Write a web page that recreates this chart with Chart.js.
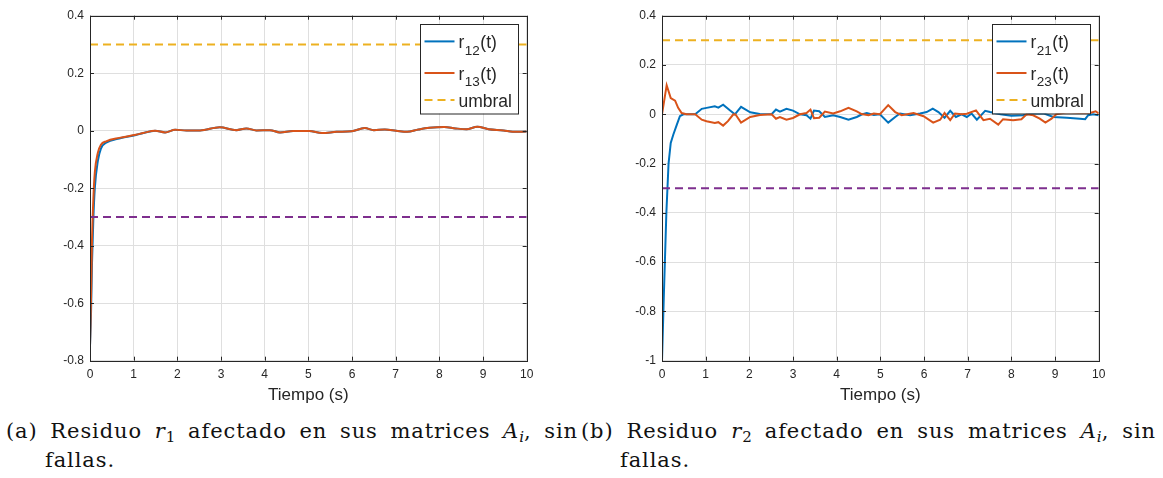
<!DOCTYPE html>
<html>
<head>
<meta charset="utf-8">
<script src="https://cdn.jsdelivr.net/npm/chart.js@4.4.1/dist/chart.umd.min.js"></script>
<style>
  body { margin: 0; background: #fff; width: 1163px; height: 478px; position: relative; overflow: hidden; }
  canvas { position: absolute; top: 0; }
  #left { left: 0; }
  #right { left: 580px; }
  .cap { position: absolute; top: 417px; font-family: "DejaVu Serif", serif; font-size: 21px; letter-spacing: 0.9px; line-height: 29px; color: #111; }
  .cap .l1 { text-align: justify; text-align-last: justify; white-space: nowrap; }
  .cap .l2 { padding-left: 39px; }
  .cap i { font-style: italic; }
  .cap .sb { font-size: 0.72em; vertical-align: -0.28em; line-height: 0; letter-spacing: 0; }
</style>
</head>
<body>
<canvas id="left" width="580" height="410"></canvas>
<canvas id="right" width="583" height="410"></canvas>
<div class="cap" style="left:6px;width:572px">
  <div class="l1">(a) Residuo <i>r</i><span class="sb">1</span> afectado en sus matrices <i>A</i><span class="sb"><i>i</i></span>, sin</div>
  <div class="l2">fallas.</div>
</div>
<div class="cap" style="left:581px;width:575px">
  <div class="l1">(b) Residuo <i>r</i><span class="sb">2</span> afectado en sus matrices <i>A</i><span class="sb"><i>i</i></span>, sin</div>
  <div class="l2">fallas.</div>
</div>
<script>
// ---- data ----
const xTicks = [0, 1, 2, 3, 4, 5, 6, 7, 8, 9, 10];

// (a) residuo r1
const tLeft = [0, 0.023, 0.046, 0.076, 0.11, 0.18, 0.25, 0.37, 0.67, 1.05,
    1.22, 1.49, 1.72, 1.95, 2.21, 2.52, 2.97, 3.35, 3.58, 3.81,
    4.12, 4.35, 4.65, 5.02, 5.31, 5.65, 5.99, 6.29, 6.5, 6.75,
    7.01, 7.26, 7.52, 7.77, 8.11, 8.37, 8.62, 8.87, 9.13, 9.47,
    9.68, 10];
const r12 = [-0.75, -0.64, -0.46, -0.31, -0.2, -0.105, -0.062, -0.042, -0.027, -0.015,
    -0.008, 0, -0.006, 0.003, 0.001, 0.001, 0.012, 0.002, 0.008, 0.001,
    0.002, -0.006, -0.001, -0.001, -0.008, -0.004, -0.002, 0.009, 0.002, 0.004,
    0, -0.004, 0.004, 0.01, 0.013, 0.008, 0.005, 0.014, 0.005, 0.001,
    -0.004, -0.003];
const r13 = [-0.75, -0.59, -0.38, -0.24, -0.146, -0.077, -0.049, -0.037, -0.025, -0.014,
    -0.008, 0, -0.006, 0.003, 0.001, 0.001, 0.012, 0.002, 0.008, 0.001,
    0.002, -0.006, -0.001, -0.001, -0.008, -0.004, -0.002, 0.009, 0.002, 0.004,
    0, -0.004, 0.004, 0.01, 0.013, 0.008, 0.005, 0.014, 0.005, 0.001,
    -0.004, -0.003];

// (b) residuo r2
const tR21 = [0, 0.04, 0.1, 0.15, 0.2, 0.26, 0.34, 0.41, 0.49, 0.76,
    0.91, 1.02, 1.21, 1.29, 1.4, 1.56, 1.67, 1.81, 2.02, 2.24,
    2.51, 2.61, 2.7, 2.85, 3.0, 3.16, 3.31, 3.4, 3.48, 3.6,
    3.73, 3.92, 4.08, 4.27, 4.46, 4.57, 4.69, 4.85, 4.99, 5.18,
    5.34, 5.45, 5.68, 5.91, 6.06, 6.2, 6.33, 6.47, 6.6, 6.73,
    6.86, 6.98, 7.09, 7.21, 7.4, 7.51, 7.75, 8.0, 8.27, 8.5,
    8.75, 8.96, 9.27, 9.57, 9.69, 9.76, 9.87, 10];
const r21 = [-1, -0.75, -0.4, -0.2, -0.116, -0.082, -0.042, -0.008, 0, 0,
    0.022, 0.026, 0.032, 0.027, 0.039, 0.015, 0, 0.03, 0.008, 0.001,
    0, 0.019, 0.011, 0.022, 0.015, 0, -0.004, -0.018, 0.015, 0.012,
    -0.011, -0.004, -0.011, -0.022, -0.011, -0.001, 0.005, -0.003, 0, -0.034,
    -0.011, 0.003, -0.004, 0.003, 0.009, 0.023, 0.009, -0.014, 0.014, -0.011,
    0, -0.011, 0.003, -0.022, 0.014, 0.009, 0, -0.006, -0.004, 0.004,
    0.003, -0.011, -0.014, -0.018, -0.02, -0.004, 0, -0.004];
const tR23 = [0, 0.107, 0.2, 0.3, 0.37, 0.45, 0.56, 0.76, 0.91, 1.02,
    1.21, 1.29, 1.4, 1.51, 1.63, 1.68, 1.81, 2.02, 2.24, 2.51,
    2.61, 2.7, 2.85, 3.0, 3.16, 3.31, 3.4, 3.48, 3.6, 3.73,
    3.92, 4.08, 4.27, 4.46, 4.57, 4.73, 4.85, 4.99, 5.18, 5.34,
    5.49, 5.76, 5.99, 6.21, 6.37, 6.47, 6.6, 6.71, 6.86, 6.98,
    7.19, 7.36, 7.51, 7.7, 7.81, 8.04, 8.23, 8.35, 8.5, 8.65,
    8.78, 8.92, 9.03, 9.28, 9.54, 9.8, 9.93, 10];
const r23 = [0, 0.118, 0.066, 0.055, 0.026, 0.005, 0, 0, -0.022, -0.028,
    -0.035, -0.032, -0.046, -0.028, -0.001, 0, -0.034, -0.011, -0.003, 0,
    -0.018, -0.011, -0.022, -0.015, 0, 0.005, 0.019, -0.016, -0.014, 0.011,
    0.003, 0.012, 0.026, 0.012, 0.001, -0.004, 0.003, 0, 0.037, 0.009,
    -0.004, 0.005, -0.008, -0.034, -0.022, 0.005, -0.024, 0.003, 0, 0.002,
    0.016, -0.024, -0.018, -0.042, -0.02, -0.024, -0.02, 0, -0.004, -0.018,
    -0.034, -0.018, 0, 0.008, 0.005, 0.005, 0.012, 0.003];

// thresholds
const tUmbral = [0, 10];
const umbralSup = [0.3, 0.3];
const umbralInf = [-0.3, -0.3];

const colors = {
    blue: '#0072BD',
    orange: '#D95319',
    yellow: '#EDB120',
    purple: '#7E2F8E',
    axis: '#262626',
    grid: '#dfdfdf',
};
const FONT = '"Liberation Sans", Arial, sans-serif';

function pairs(ts, vs) {
    return ts.map((t, i) => ({ x: t, y: vs[i] }));
}

function fmt(v) {
    if (Math.abs(v) < 1e-9) return '0';
    return String(+v.toFixed(1));
}

// MATLAB style box with inward ticks on all four sides
const axesBox = {
    id: 'axesBox',
    afterDatasetsDraw(chart) {
        const { ctx, chartArea: a, scales } = chart;
        const len = 4;
        ctx.save();
        ctx.strokeStyle = colors.axis;
        ctx.lineWidth = 1;
        ctx.beginPath();
        scales.x.ticks.forEach(t => {
            const px = Math.round(scales.x.getPixelForValue(t.value)) + 0.5;
            ctx.moveTo(px, a.bottom); ctx.lineTo(px, a.bottom - len);
            ctx.moveTo(px, a.top); ctx.lineTo(px, a.top + len);
        });
        scales.y.ticks.forEach(t => {
            const py = Math.round(scales.y.getPixelForValue(t.value)) + 0.5;
            ctx.moveTo(a.left, py); ctx.lineTo(a.left + len, py);
            ctx.moveTo(a.right, py); ctx.lineTo(a.right - len, py);
        });
        ctx.stroke();
        ctx.strokeRect(Math.round(a.left) + 0.5, Math.round(a.top) + 0.5,
            Math.round(a.right - a.left), Math.round(a.bottom - a.top));
        ctx.restore();
    }
};

// legend drawn by hand so the subscripts look like the original
const subLegend = {
    id: 'subLegend',
    afterDatasetsDraw(chart, args, opts) {
        const { ctx, chartArea: a } = chart;
        const x0 = Math.round(a.right - opts.margin - opts.width);
        const y0 = Math.round(a.top + opts.margin);
        ctx.save();
        ctx.fillStyle = '#fff';
        ctx.fillRect(x0, y0, opts.width, opts.height);
        ctx.strokeStyle = colors.axis;
        ctx.lineWidth = 1;
        ctx.strokeRect(x0 + 0.5, y0 + 0.5, opts.width, opts.height);
        ctx.fillStyle = colors.axis;
        ctx.textBaseline = 'alphabetic';
        chart.data.datasets.forEach((ds, i) => {
            if (ds.hideInLegend) return;
            const yc = y0 + opts.rows[i];
            ctx.strokeStyle = ds.borderColor;
            ctx.lineWidth = ds.borderWidth;
            ctx.setLineDash(ds.borderDash || []);
            ctx.beginPath();
            ctx.moveTo(x0 + 4.5, yc);
            ctx.lineTo(x0 + 34.5, yc);
            ctx.stroke();
            ctx.setLineDash([]);
            const m = ds.label.match(/^(\w)_(\d+)(.*)$/);
            let x = x0 + 38.5;
            ctx.font = `17.5px ${FONT}`;
            if (m) {
                ctx.fillText(m[1], x, yc + 6.5);
                x += ctx.measureText(m[1]).width + 0.5;
                ctx.font = `13.5px ${FONT}`;
                ctx.fillText(m[2], x, yc + 13.2);
                x += ctx.measureText(m[2]).width + 0.5;
                ctx.font = `17.5px ${FONT}`;
                ctx.fillText(m[3], x, yc + 6.5);
            } else {
                ctx.fillText(ds.label, x, yc + 6.8);
            }
        });
        ctx.restore();
    }
};

function makeChart(id, yMin, yMax, axisWidth, padRight, series) {
    const datasets = [
        { label: series[0].label, data: pairs(series[0].t, series[0].v), borderColor: colors.blue, order: 4 },
        { label: series[1].label, data: pairs(series[1].t, series[1].v), borderColor: colors.orange, order: 3 },
        { label: 'umbral', data: pairs(tUmbral, umbralSup), borderColor: colors.yellow, borderDash: [8, 5], order: 2 },
        { label: 'umbral inf', data: pairs(tUmbral, umbralInf), borderColor: colors.purple, borderDash: [8, 5], order: 1, hideInLegend: true },
    ].map(d => Object.assign({
        borderWidth: 2,
        pointRadius: 0,
        fill: false,
        tension: 0,
        cubicInterpolationMode: series.smooth ? 'monotone' : 'default',
    }, d));

    return new Chart(document.getElementById(id), {
        type: 'line',
        data: { datasets },
        options: {
            responsive: false,
            animation: false,
            layout: { padding: { left: 0, top: 15.7, right: padRight, bottom: 0 } },
            plugins: {
                legend: { display: false },
                tooltip: { enabled: false },
                subLegend: { width: 98, height: 89.5, margin: 8.4, rows: [17.4, 49, 76] },
            },
            scales: {
                x: {
                    type: 'linear',
                    min: 0, max: 10,
                    afterBuildTicks: (s) => { s.ticks = xTicks.map(v => ({ value: v })); },
                    afterFit: (s) => { s.height = 49.3; },
                    grid: { color: colors.grid, drawTicks: false },
                    border: { display: false },
                    ticks: { color: colors.axis, padding: 7, font: { family: FONT, size: 12 }, maxRotation: 0 },
                    title: { display: true, text: 'Tiempo (s)', color: colors.axis, font: { family: FONT, size: 17 }, padding: { top: 0, bottom: 4.8 } },
                },
                y: {
                    min: yMin, max: yMax,
                    afterFit: (s) => { s.width = axisWidth; },
                    grid: { color: colors.grid, drawTicks: false },
                    border: { display: false },
                    ticks: { stepSize: 0.2, color: colors.axis, padding: 6, font: { family: FONT, size: 12 }, callback: fmt },
                },
            },
        },
        plugins: [axesBox, subLegend],
    });
}

const leftSeries = [
    { label: 'r_12(t)', t: tLeft, v: r12 },
    { label: 'r_13(t)', t: tLeft, v: r13 },
];
leftSeries.smooth = true;
const rightSeries = [
    { label: 'r_21(t)', t: tR21, v: r21 },
    { label: 'r_23(t)', t: tR23, v: r23 },
];

makeChart('left', -0.8, 0.4, 90, 53.3, leftSeries);
makeChart('right', -1, 0.4, 82, 64.3, rightSeries);
</script>
</body>
</html>
